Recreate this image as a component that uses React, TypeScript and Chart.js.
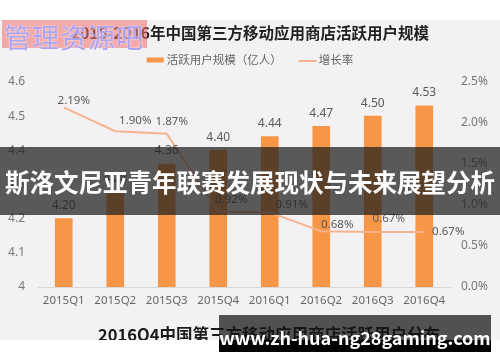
import React, { useEffect, useRef } from 'react';
import { Chart, registerables } from 'chart.js';

Chart.register(...registerables);

const chartTitle = '2015-2016年中国第三方移动应用商店活跃用户规模';
const categories = ['2015Q1', '2015Q2', '2015Q3', '2015Q4', '2016Q1', '2016Q2', '2016Q3', '2016Q4'];
const barLabel = '活跃用户规模（亿人）';
const lineLabel = '增长率';
const activeUsers = [4.2, 4.28, 4.36, 4.4, 4.44, 4.47, 4.5, 4.53];
const growthRate = [2.19, 1.9, 1.87, 0.92, 0.91, 0.68, 0.67, 0.67];
const leftTicks = [4, 4.1, 4.2, 4.3, 4.4, 4.5, 4.6];
const rightTicks = [0, 0.5, 1.0, 1.5, 2.0, 2.5];
const bannerText = '斯洛文尼亚青年联赛发展现状与未来展望分析';
const watermarkText = '管理资源吧';
const siteText = 'www.zh-hua-ng28gaming.com';
const nextTitle = '2016Q4中国第三方移动应用商店活跃用户分布';

// label offsets (dx, dy) relative to each line point, style only
const lineLabelOffsets = [
  [10, -7], [20, -10], [5, -12], [13, -12], [22, -8], [16, -7], [16, -13], [24, 0],
];

const BAR_COLOR = '#f79646';
const LINE_COLOR = '#f5b48e';
const CJK = '"Noto Sans CJK SC", "Noto Sans", sans-serif';
const NUM = '"Noto Sans", sans-serif';

const decorPlugin = {
  id: 'decor',
  afterDatasetsDraw(chart: any) {
    const ctx = chart.ctx;
    ctx.save();
    ctx.font = `12px ${NUM}`;
    ctx.fillStyle = '#595959';
    ctx.textAlign = 'center';
    ctx.textBaseline = 'middle';
    const barMeta = chart.getDatasetMeta(0);
    barMeta.data.forEach((el: any, i: number) => {
      ctx.fillText(activeUsers[i].toFixed(2), el.x, el.y - 13);
    });
    const lineMeta = chart.getDatasetMeta(1);
    ctx.font = `11.5px ${NUM}`;
    lineMeta.data.forEach((pt: any, i: number) => {
      const [dx, dy] = lineLabelOffsets[i];
      ctx.fillText(growthRate[i].toFixed(2) + '%', pt.x + dx, pt.y + dy);
    });
    ctx.restore();
  },
  afterDraw(chart: any) {
    const ctx = chart.ctx;
    const w = chart.width;
    ctx.save();
    // title
    ctx.font = `bold 15.5px ${CJK}`;
    ctx.fillStyle = '#222';
    ctx.textAlign = 'center';
    ctx.textBaseline = 'middle';
    ctx.fillText(chartTitle, w / 2, 13);
    // legend
    ctx.font = `11.5px ${CJK}`;
    ctx.textAlign = 'left';
    const t1 = ctx.measureText(barLabel).width;
    const t2 = ctx.measureText(lineLabel).width;
    const total = 17 + 3 + t1 + 17 + 18 + 2 + t2;
    let x = w / 2 - total / 2;
    const y = 40;
    ctx.fillStyle = BAR_COLOR;
    ctx.fillRect(x, y - 2.5, 17, 5);
    x += 20;
    ctx.fillStyle = '#666';
    ctx.fillText(barLabel, x, y);
    x += t1 + 17;
    ctx.strokeStyle = LINE_COLOR;
    ctx.lineWidth = 2;
    ctx.beginPath();
    ctx.moveTo(x, y + 1);
    ctx.lineTo(x + 18, y + 1);
    ctx.stroke();
    x += 20;
    ctx.fillText(lineLabel, x, y);
    ctx.restore();
  },
};

function ChartView() {
  const ref = useRef<HTMLCanvasElement>(null);
  useEffect(() => {
    if (!ref.current) return;
    const chart = new Chart(ref.current, {
      type: 'bar',
      data: {
        labels: categories,
        datasets: [
          {
            type: 'bar',
            label: barLabel,
            data: activeUsers,
            backgroundColor: BAR_COLOR,
            barThickness: 17,
            yAxisID: 'y',
            order: 2,
          },
          {
            type: 'line',
            label: lineLabel,
            data: growthRate,
            borderColor: LINE_COLOR,
            borderWidth: 2,
            pointRadius: 0,
            tension: 0,
            yAxisID: 'y1',
            order: 1,
          },
        ],
      } as any,
      options: {
        animation: false,
        responsive: false,
        maintainAspectRatio: false,
        layout: { padding: { top: 62, left: 0, right: 0, bottom: 13 } },
        plugins: { legend: { display: false }, title: { display: false }, tooltip: { enabled: false } },
        scales: {
          x: {
            grid: { display: false, drawTicks: false },
            border: { display: true, color: '#d9d9d9', width: 1 },
            ticks: { color: '#666', font: { family: NUM, size: 11.5 }, padding: 7, maxRotation: 0 },
            afterFit: (s: any) => { s.height = 40; },
          },
          y: {
            position: 'left',
            min: leftTicks[0],
            max: leftTicks[leftTicks.length - 1],
            grid: { display: false, drawTicks: false },
            border: { display: false },
            afterBuildTicks: (s: any) => { s.ticks = leftTicks.map((v) => ({ value: v })); },
            ticks: {
              color: '#777',
              font: { family: NUM, size: 12 },
              padding: 13,
              callback: (v: any) => (Number(v) === 4 ? '4' : Number(v).toFixed(1)),
            },
            afterFit: (s: any) => { s.width = 38; },
          },
          y1: {
            position: 'right',
            min: rightTicks[0],
            max: rightTicks[rightTicks.length - 1],
            grid: { display: false, drawTicks: false },
            border: { display: false },
            afterBuildTicks: (s: any) => { s.ticks = rightTicks.map((v) => ({ value: v })); },
            ticks: {
              color: '#777',
              font: { family: NUM, size: 12 },
              padding: 11,
              callback: (v: any) => Number(v).toFixed(1) + '%',
            },
            afterFit: (s: any) => { s.width = 50; },
          },
        },
      } as any,
      plugins: [decorPlugin],
    });
    return () => chart.destroy();
  }, []);
  return <canvas ref={ref} width={500} height={320} style={{ display: 'block', width: 500, height: 320 }} />;
}

export default function App() {
  return (
    <div style={{ position: 'absolute', left: 0, top: 0, width: 500, height: 362, background: '#ffffff', overflow: 'hidden' }}>
      <div style={{ position: 'absolute', left: 0, top: 20, width: 500, height: 320, background: '#f3f1f3', overflow: 'hidden' }}>
        <ChartView />
        <div style={{ position: 'absolute', left: 98, top: 302, whiteSpace: 'nowrap', font: `bold 16.5px ${CJK}`, color: '#1a1a1a' }}>
          {nextTitle}
        </div>
      </div>
      {/* top-left watermark */}
      <div style={{
        position: 'absolute', left: 2, top: 20, width: 145, height: 28,
        background: 'rgba(240,110,110,0.55)', filter: 'blur(0.5px)',
      }} />
      <div style={{
        position: 'absolute', left: 4, top: 17, whiteSpace: 'nowrap', font: `27px ${CJK}`,
        color: '#a9a3f0', letterSpacing: 1, textShadow: '0 0 2px #ffffff',
      }}>{watermarkText}</div>
      {/* banner */}
      <div style={{
        position: 'absolute', left: 0, top: 147, width: 500, height: 68, background: 'rgba(30,30,30,0.72)',
        display: 'flex', alignItems: 'center', justifyContent: 'center',
      }}>
        <span style={{ color: '#ffffff', font: `bold 24.5px ${CJK}`, whiteSpace: 'nowrap' }}>{bannerText}</span>
      </div>
      {/* bottom-right site box */}
      <div style={{ position: 'absolute', left: 219, top: 315, width: 272, height: 25, background: 'rgba(20,20,20,0.72)' }} />
      <div style={{ position: 'absolute', left: 219, top: 340, width: 272, height: 12, background: '#000000' }} />
      <div style={{
        position: 'absolute', left: 219, top: 324, width: 272, textAlign: 'center', whiteSpace: 'nowrap',
        color: '#ffffff', font: `bold 18px ${CJK}`, lineHeight: '26px',
      }}>{siteText}</div>
    </div>
  );
}
